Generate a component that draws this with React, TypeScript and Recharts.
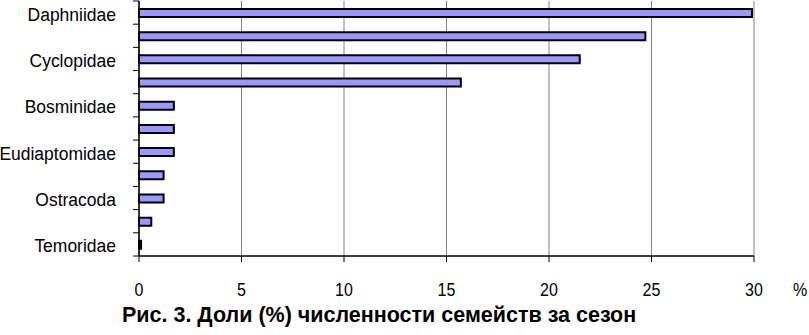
import { BarChart, Bar, XAxis, YAxis, CartesianGrid } from "recharts"

// Семейства (подписаны через одну категорию, как в оригинале)
const families = [
  "Daphniidae",
  "",
  "Cyclopidae",
  "",
  "Bosminidae",
  "",
  "Eudiaptomidae",
  "",
  "Ostracoda",
  "",
  "Temoridae",
]

// Доли, %
const shares = [29.9, 24.7, 21.5, 15.7, 1.7, 1.7, 1.7, 1.2, 1.2, 0.6, 0.1]

const xTicks = [0, 5, 10, 15, 20, 25, 30]

const title = "Рис. 3. Доли (%) численности семейств за сезон"

const W = 809
const H = 335
const MARGIN = { top: 1, right: 55, bottom: 0, left: 0 }
const X_AXIS_H = 79
const Y_AXIS_W = 139

const data = shares.map((value, i) => ({ key: `c${i}`, label: families[i], value }))

const plotHeight = H - MARGIN.top - MARGIN.bottom - X_AXIS_H
const band = plotHeight / data.length

const font = "'Liberation Sans', Arial, sans-serif"

function CategoryTick(props: any) {
  const { x, y, index } = props
  const axisX = x + 8 // tickSize 6 + tickMargin 2
  const label = families[index] || ""
  return (
    <g>
      <line x1={axisX - 6} x2={axisX} y1={y + band / 2} y2={y + band / 2} stroke="#000" />
      {index === 0 && <line x1={axisX - 6} x2={axisX} y1={y - band / 2} y2={y - band / 2} stroke="#000" />}
      <g transform={`translate(${axisX - 23},${y + 1}) scale(1,1.1)`}>
        <text x={0} y={0} dy="0.36em" textAnchor="end" fontSize={17.5} fontFamily={font} fill="#000">
          {label}
        </text>
      </g>
    </g>
  )
}

function ValueTick(props: any) {
  const { x, y, payload } = props
  return (
    <g transform={`translate(${x},${y + 34}) scale(1,1.15)`}>
      <text x={0} y={0} textAnchor="middle" fontSize={16} fontFamily={font} fill="#000">
        {payload.value}
      </text>
    </g>
  )
}

export default function App() {
  return (
    <div style={{ position: "absolute", left: 0, top: 0, width: W, height: H, background: "#fff" }}>
      <BarChart width={W} height={H} data={data} layout="vertical" margin={MARGIN}>
        <CartesianGrid horizontal={false} stroke="#808080" strokeWidth={1} />
        <XAxis
          type="number"
          domain={[0, 30]}
          ticks={xTicks}
          interval={0}
          height={X_AXIS_H}
          axisLine={{ stroke: "#000", strokeWidth: 1.5 }}
          tickLine={{ stroke: "#000" }}
          tickSize={6}
          tickMargin={0}
          tick={<ValueTick />}
        />
        <XAxis
          xAxisId="top"
          orientation="top"
          type="number"
          domain={[0, 30]}
          height={0}
          tick={false}
          tickLine={false}
          axisLine={{ stroke: "#808080", strokeWidth: 1.5 }}
        />
        <YAxis
          type="category"
          dataKey="key"
          width={Y_AXIS_W}
          interval={0}
          tickLine={false}
          axisLine={{ stroke: "#000", strokeWidth: 1.5 }}
          tick={<CategoryTick />}
        />
        <Bar dataKey="value" fill="#9999ff" stroke="#000" strokeWidth={2} barSize={8} isAnimationActive={false} />
      </BarChart>
      <div
        style={{
          position: "absolute",
          left: 793,
          top: 281,
          fontFamily: font,
          fontSize: 16,
          lineHeight: "18px",
          color: "#000",
          transform: "scaleY(1.15)",
        }}
      >
        %
      </div>
      <div
        style={{
          position: "absolute",
          left: 122,
          top: 302,
          fontFamily: font,
          fontWeight: "bold",
          fontSize: 21.5,
          lineHeight: "26px",
          color: "#000",
          whiteSpace: "nowrap",
        }}
      >
        {title}
      </div>
    </div>
  )
}
